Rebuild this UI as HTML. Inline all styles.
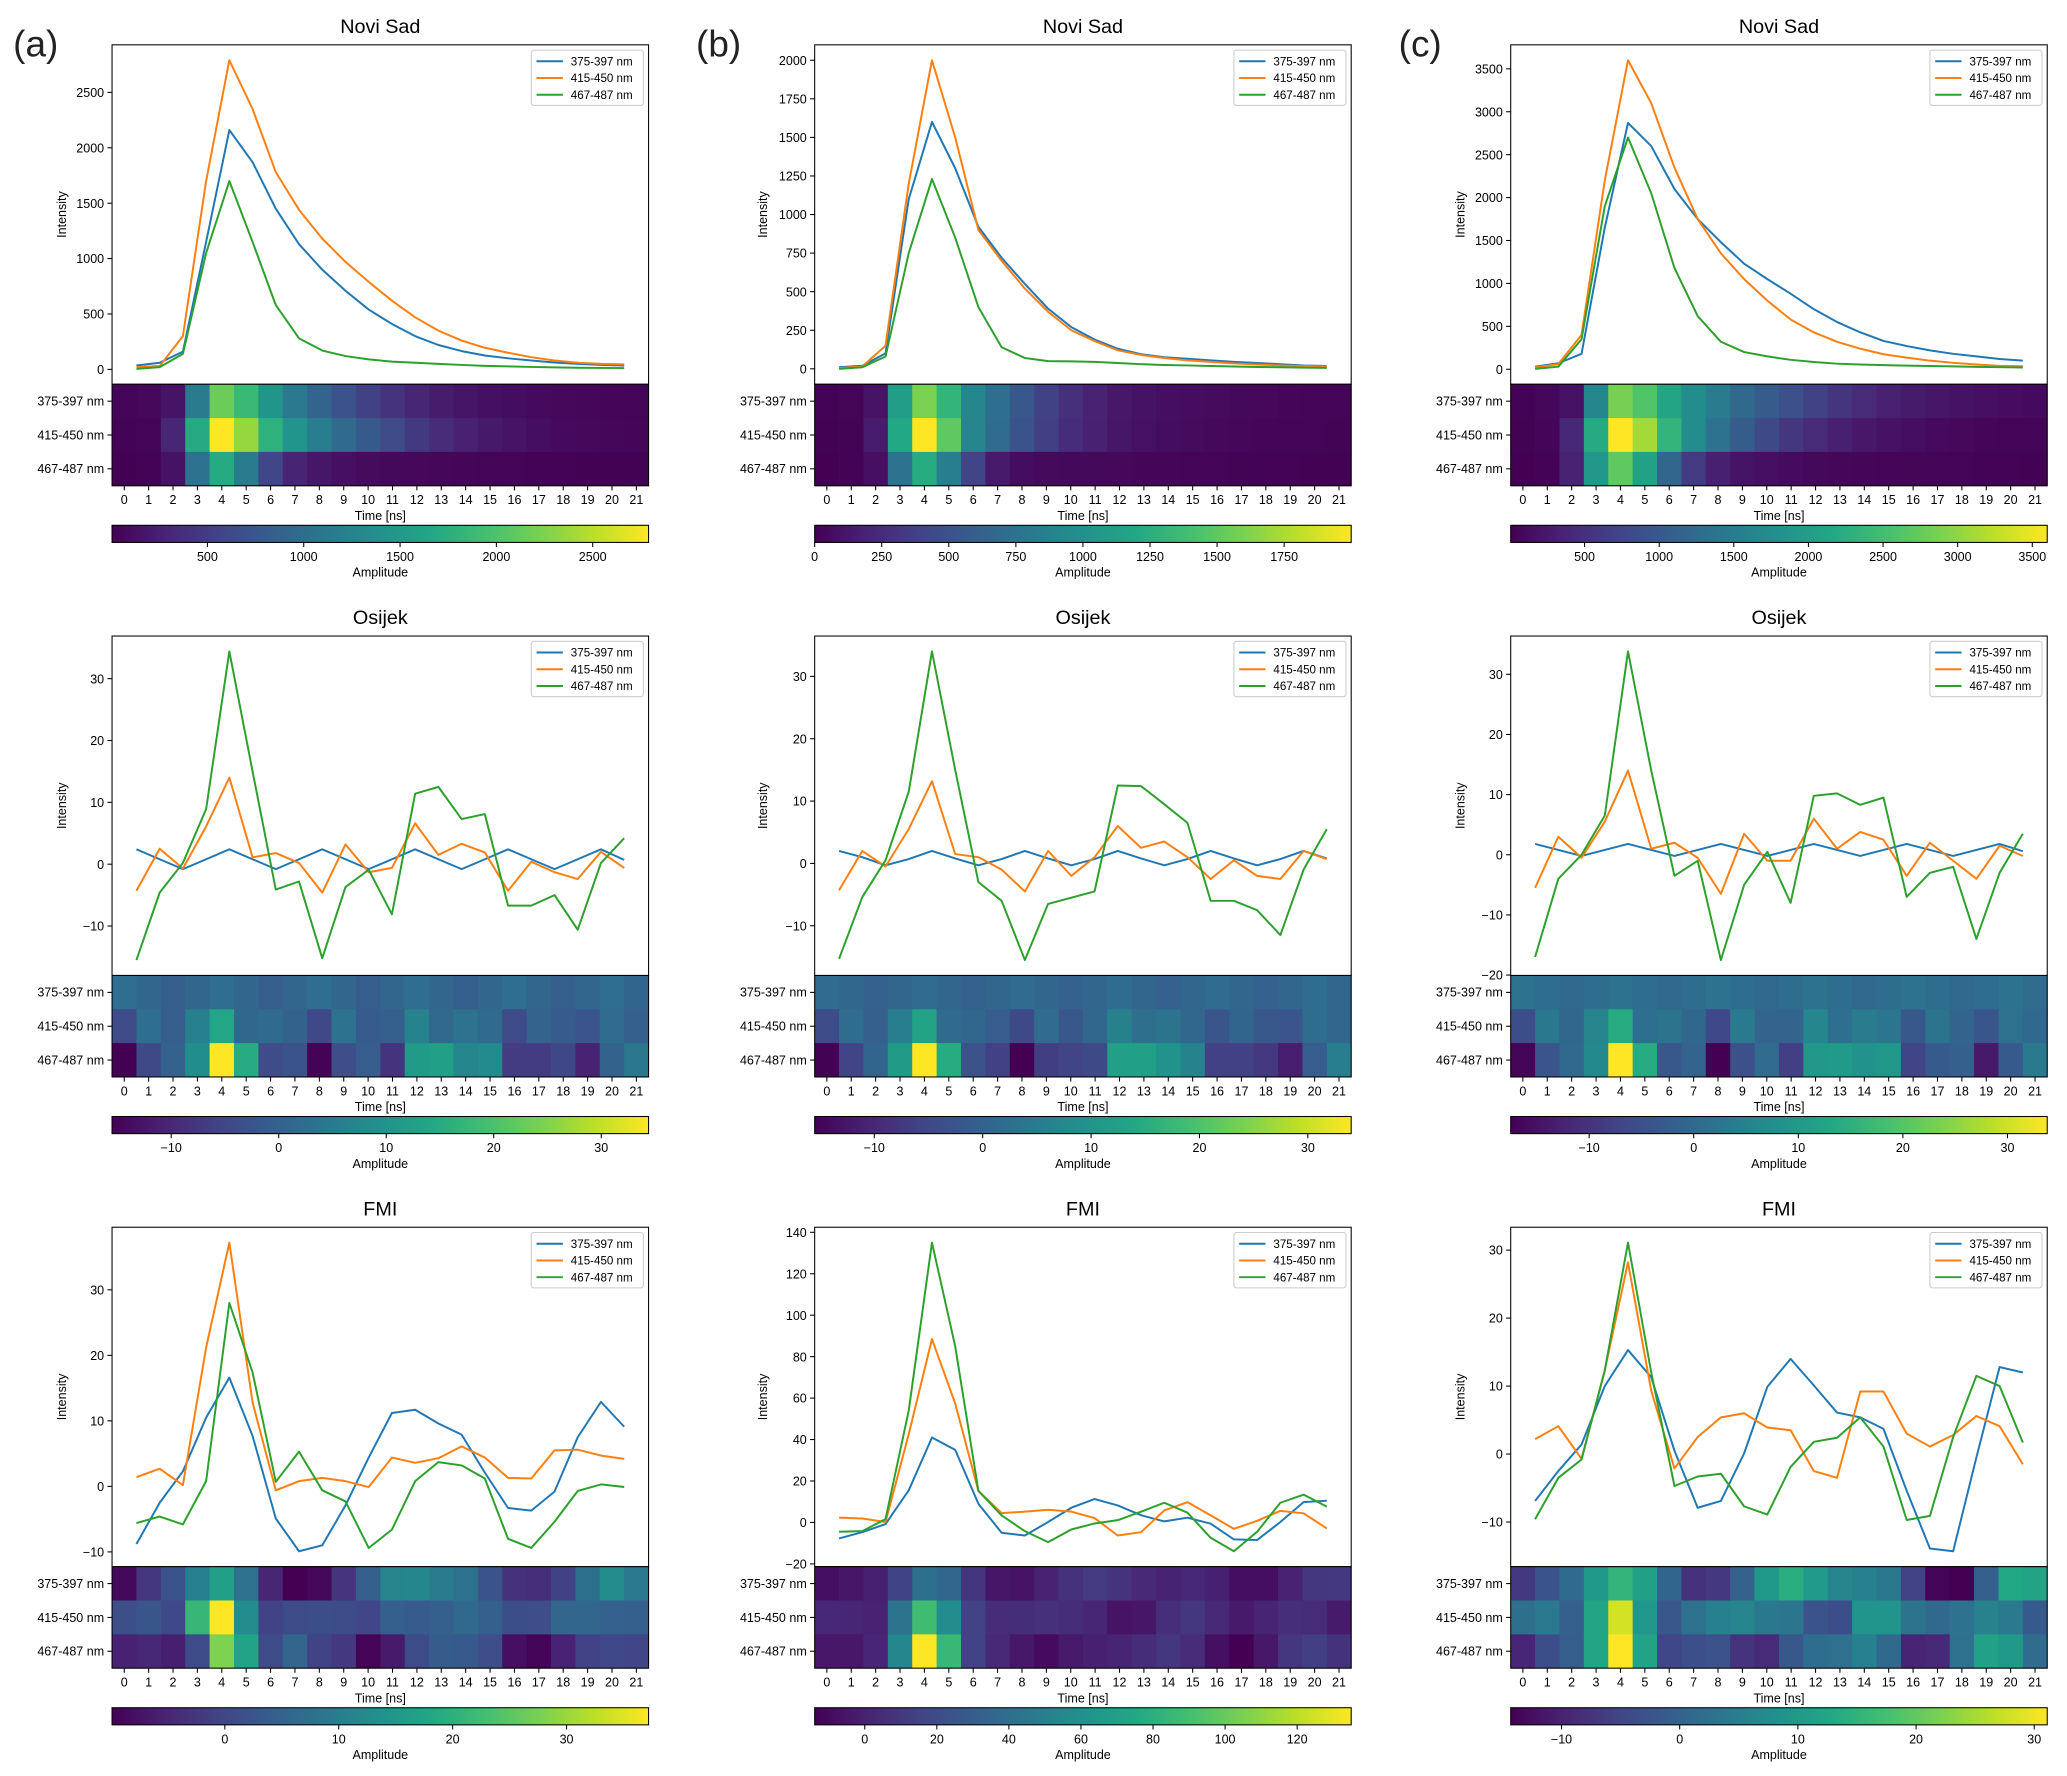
<!DOCTYPE html>
<html><head><meta charset="utf-8">
<style>
html,body{margin:0;padding:0;background:#fff;}
svg{display:block;font-family:"Liberation Sans","DejaVu Sans",sans-serif;}
</style></head>
<body>
<svg id="fig" width="2067" height="1776" viewBox="0 0 1568 1347.3" preserveAspectRatio="none" xmlns="http://www.w3.org/2000/svg">
<text x="10" y="43" font-size="28" fill="#222">(a)</text>
<text x="528" y="43" font-size="28" fill="#222">(b)</text>
<text x="1061" y="43" font-size="28" fill="#222">(c)</text>
</svg>
<script>
const timeBins = [0,1,2,3,4,5,6,7,8,9,10,11,12,13,14,15,16,17,18,19,20,21];
const bandLabels = ["375-397 nm","415-450 nm","467-487 nm"];

// Novi Sad (a)
const nsA375 = [35,60,160,1150,2160,1870,1450,1130,900,710,540,410,300,220,165,125,100,80,62,50,40,35];
const nsA415 = [20,30,300,1700,2790,2350,1780,1440,1180,970,790,620,470,350,260,195,150,110,80,60,50,45];
const nsA467 = [5,20,140,1050,1700,1150,580,280,170,120,90,70,60,50,40,32,27,22,18,15,13,12];
// Novi Sad (b)
const nsB375 = [10,20,100,1100,1600,1300,920,720,550,390,270,190,130,95,75,65,55,45,38,30,22,18];
const nsB415 = [5,15,150,1200,2000,1500,900,700,520,370,250,180,120,90,70,55,45,35,28,22,18,15];
const nsB467 = [0,10,80,750,1230,850,400,140,70,50,48,45,38,30,25,22,18,15,12,10,8,6];
// Novi Sad (c)
const nsC375 = [30,70,180,1650,2870,2600,2100,1750,1480,1230,1050,880,700,550,430,330,270,220,180,150,120,100];
const nsC415 = [20,60,400,2200,3600,3100,2350,1750,1350,1050,800,580,430,320,240,175,135,100,75,55,40,35];
const nsC467 = [5,30,350,1900,2700,2050,1180,620,320,200,150,110,85,65,55,48,42,38,33,28,24,20];
// Osijek (a)
const osA375 = [2.4,0.8,-0.8,0.8,2.4,0.8,-0.8,0.8,2.4,0.8,-0.8,0.8,2.4,0.8,-0.8,0.8,2.4,0.8,-0.8,0.8,2.4,0.7];
const osA415 = [-4.3,2.5,-0.7,6.1,14,1.1,1.8,0.2,-4.6,3.2,-1.3,-0.6,6.6,1.5,3.3,1.9,-4.3,0.4,-1.3,-2.4,2.0,-0.6];
const osA467 = [-15.5,-4.6,0.2,8.9,34.4,15,-4.1,-2.8,-15.2,-3.7,-0.9,-8.1,11.4,12.5,7.3,8.1,-6.7,-6.7,-5.0,-10.6,0.2,4.2];
// Osijek (b)
const osB375 = [2,1,-0.3,0.7,2,0.8,-0.3,0.7,2,0.8,-0.3,0.7,2,0.8,-0.3,0.7,2,0.8,-0.3,0.7,2,0.8];
const osB415 = [-4.3,2,-0.5,5.5,13.2,1.5,1,-1,-4.5,2,-2,1,6,2.5,3.5,1,-2.5,0.5,-2,-2.5,2,0.7];
const osB467 = [-15.3,-5.4,0.5,11.5,34,15,-3,-6,-15.5,-6.5,-5.5,-4.5,12.5,12.4,9.5,6.5,-6,-6,-7.5,-11.5,-1,5.5];
// Osijek (c)
const osC375 = [1.8,0.8,-0.2,0.8,1.8,0.8,-0.2,0.8,1.8,0.8,-0.2,0.8,1.8,0.8,-0.2,0.8,1.8,0.8,-0.2,0.8,1.8,0.6];
const osC415 = [-5.5,3,-0.5,5.5,14,1,2,-0.5,-6.5,3.5,-1,-1,6,1,3.8,2.5,-3.5,2,-1,-4,1.5,-0.2];
const osC467 = [-17,-4,0,6.5,33.8,14,-3.5,-1,-17.5,-5,0.5,-8,9.8,10.2,8.3,9.5,-7,-3,-2,-14,-3,3.5];
// FMI (a)
const fmA375 = [-8.8,-2.5,2.3,10.5,16.6,7.7,-4.9,-9.9,-9.0,-2.9,4.4,11.2,11.7,9.6,7.9,2.1,-3.3,-3.7,-0.8,7.5,12.9,9.1];
const fmA415 = [1.4,2.7,0.2,21.2,37.2,12.8,-0.6,0.8,1.3,0.8,-0.1,4.4,3.6,4.3,6.1,4.4,1.3,1.2,5.5,5.6,4.7,4.2];
const fmA467 = [-5.6,-4.6,-5.8,0.8,28,17.4,0.7,5.3,-0.6,-2.3,-9.4,-6.6,0.8,3.7,3.2,1.2,-8.0,-9.4,-5.4,-0.7,0.3,-0.1];
// FMI (b)
const fmB375 = [-7.7,-4.7,-0.8,15.5,41,35,9,-5,-6.3,0.2,7.1,11.3,8.2,3.5,0.5,2.3,-0.6,-8.2,-8.5,0.2,9.8,10.5];
const fmB415 = [2.3,1.9,0.2,42.6,88.5,57.4,15.2,4.5,5.2,6.1,5.2,2.1,-6.3,-4.7,5.8,9.8,3.4,-3.1,0.8,5.6,4.4,-2.9];
const fmB467 = [-4.5,-4.2,1.6,54,135,85,15.2,3.4,-4.2,-9.5,-3.4,-0.5,1.1,5.2,9.5,4.7,-7.4,-13.9,-4.5,9.5,13.4,7.6];
// FMI (c)
const fmC375 = [-6.9,-2.5,1.4,10,15.3,11.3,0.5,-7.9,-6.9,0.1,9.9,14,10.1,6.1,5.4,3.7,-5.4,-13.9,-14.3,-0.5,12.8,12];
const fmC415 = [2.2,4.1,-0.7,12.3,28.2,9.3,-2.1,2.5,5.4,6,3.9,3.5,-2.5,-3.5,9.2,9.2,3,1.1,2.8,5.6,4.1,-1.5];
const fmC467 = [-9.6,-3.5,-0.8,12.3,31.1,12,-4.7,-3.3,-2.9,-7.7,-8.9,-1.9,1.8,2.4,5.4,1.1,-9.7,-9.1,2.5,11.5,10,1.7];

// tick labels
const yTicksNsA = [0,500,1000,1500,2000,2500];
const yTicksNsB = [0,250,500,750,1000,1250,1500,1750,2000];
const yTicksNsC = [0,500,1000,1500,2000,2500,3000,3500];
const yTicksOsAB = [-10,0,10,20,30];
const yTicksOsC = [-20,-10,0,10,20,30];
const yTicksFmA = [-10,0,10,20,30];
const yTicksFmB = [-20,0,20,40,60,80,100,120,140];
const yTicksFmC = [-10,0,10,20,30];
const cbTicksNsA = [500,1000,1500,2000,2500];
const cbTicksNsB = [0,250,500,750,1000,1250,1500,1750];
const cbTicksNsC = [500,1000,1500,2000,2500,3000,3500];
const cbTicksOs = [-10,0,10,20,30];
const cbTicksFmA = [0,10,20,30];
const cbTicksFmB = [0,20,40,60,80,100,120];
const cbTicksFmC = [-10,0,10,20,30];

const titles = ["Novi Sad","Osijek","FMI"];
const panels = [
 [[nsA375,nsA415,nsA467],yTicksNsA,cbTicksNsA],[[nsB375,nsB415,nsB467],yTicksNsB,cbTicksNsB],[[nsC375,nsC415,nsC467],yTicksNsC,cbTicksNsC],
 [[osA375,osA415,osA467],yTicksOsAB,cbTicksOs],[[osB375,osB415,osB467],yTicksOsAB,cbTicksOs],[[osC375,osC415,osC467],yTicksOsC,cbTicksOs],
 [[fmA375,fmA415,fmA467],yTicksFmA,cbTicksFmA],[[fmB375,fmB415,fmB467],yTicksFmB,cbTicksFmB],[[fmC375,fmC415,fmC467],yTicksFmC,cbTicksFmC]
];

const colX = [85,618,1146], rowY = [34,482.5,931];
const W = 407, PH = 257.5, HH = 77;
const seriesColors = ["#1f77b4","#ff7f0e","#2ca02c"];
const vir = ["#440154","#482475","#414487","#355f8d","#2a788e","#21918c","#22a884","#44bf70","#7ad151","#bddf26","#fde725"];
function hex(h){return [1,3,5].map(i=>parseInt(h.substr(i,2),16));}
function viridis(t){t=Math.max(0,Math.min(1,t));const p=t*10,i=Math.min(9,Math.floor(p)),f=p-i;const a=hex(vir[i]),b=hex(vir[i+1]);return "rgb("+a.map((v,k)=>Math.round(v+(b[k]-v)*f)).join(",")+")";}

const svg = document.getElementById('fig');
const NS = "http://www.w3.org/2000/svg";
function mk(tag, attrs, parent){const e=document.createElementNS(NS,tag);for(const k in attrs)e.setAttribute(k,attrs[k]);(parent||svg).appendChild(e);return e;}
function txt(x,y,s,size,anchor,parent){const t=mk('text',{x:x,y:y,'font-size':size,'text-anchor':anchor||'middle',fill:'#000'},parent);t.textContent=s;return t;}

panels.forEach((p,idx)=>{
  const r=Math.floor(idx/3), c=idx%3;
  const L=colX[c], T=rowY[r];
  const series=p[0], yT=p[1], cbT=p[2];
  const g=mk('g',{});
  
  
  const all=[].concat(...series);
  const mn=Math.min(...all), mx=Math.max(...all), rg=mx-mn;
  const y0=mn-0.05*rg, y1=mx+0.05*rg;
  const cw=W/22;
  const xs=k=>L+cw*(1+k*20/21);
  const ys=v=>T+PH-(v-y0)/(y1-y0)*PH;
  // title
  const tt=txt(L+W/2,T-9,titles[r],15,'middle',g);
  
  
  // plot frame bg
  mk('rect',{x:L,y:T,width:W,height:PH,fill:'#fff'},g);
  // y ticks
  yT.forEach(v=>{
    const y=ys(v);
    if(y<T-0.5||y>T+PH+0.5)return;
    mk('line',{x1:L-3.5,x2:L,y1:y,y2:y,stroke:'#000','stroke-width':0.8},g);
    const lab=txt(L-6,y+3.5,v<0?'\u2212'+Math.abs(v):String(v),9.5,'end',g);
    
    
  });
  const yl=txt(0,0,'Intensity',9.5,'middle',g);
  yl.setAttribute('transform','translate('+(L-(c===1?36:35))+','+(T+PH/2)+') rotate(-90)');
  
  
  // series lines
  series.forEach((arr,si)=>{
    const pts=arr.map((v,k)=>xs(k).toFixed(2)+','+ys(v).toFixed(2)).join(' ');
    const pl=mk('polyline',{points:pts,fill:'none',stroke:seriesColors[si],'stroke-width':1.5,'stroke-linejoin':'round'},g);
    
    
  });
  mk('rect',{x:L,y:T,width:W,height:PH,fill:'none',stroke:'#000','stroke-width':0.8},g);
  // legend
  const lg=mk('g',{},g);
  
  
  const lx=L+W-89, ly=T+4;
  mk('rect',{x:lx,y:ly,width:85,height:42,fill:'#fff',stroke:'#ccc','stroke-width':0.8,rx:2},lg);
  bandLabels.forEach((b,si)=>{
    const yy=ly+8.5+si*12.7;
    mk('line',{x1:lx+4,x2:lx+24,y1:yy,y2:yy,stroke:seriesColors[si],'stroke-width':1.5},lg);
    const lt=txt(lx+30,yy+3.2,b,8.8,'start',lg);
    
    
  });
  // heatmap
  const HT=T+PH;
  const hm=mk('g',{},g);
  
  
  series.forEach((arr,si)=>{
    arr.forEach((v,k)=>{
      const cell=mk('rect',{x:L+k*cw,y:HT+si*HH/3,width:cw+0.3,height:HH/3+0.3,fill:viridis((v-mn)/rg)},hm);
      
      
    });
    const yy=HT+(si+0.5)*HH/3;
    mk('line',{x1:L-3.5,x2:L,y1:yy,y2:yy,stroke:'#000','stroke-width':0.8},g);
    const bl=txt(L-6,yy+3.3,bandLabels[si],9.5,'end',g);
    
    
  });
  mk('rect',{x:L,y:HT,width:W,height:HH,fill:'none',stroke:'#000','stroke-width':0.8},g);
  timeBins.forEach((t,k)=>{
    const x=L+(k+0.5)*cw;
    mk('line',{x1:x,x2:x,y1:HT+HH,y2:HT+HH+3.5,stroke:'#000','stroke-width':0.8},g);
    const xl=txt(x,HT+HH+14,String(t),9.5,'middle',g);
    
    
  });
  const xt=txt(L+W/2,HT+HH+26,'Time [ns]',9.5,'middle',g);
  
  
  // colorbar
  const CT=HT+HH+30, CH=13;
  const gid='vg'+idx;
  const grad=mk('linearGradient',{id:gid,x1:0,x2:1,y1:0,y2:0},mk('defs',{},g));
  vir.forEach((col,i)=>mk('stop',{offset:(i/10),'stop-color':col},grad));
  const cb=mk('rect',{x:L,y:CT,width:W,height:CH,fill:'url(#'+gid+')',stroke:'#000','stroke-width':0.8},g);
  
  
  cbT.forEach(v=>{
    const x=L+(v-mn)/rg*W;
    if(x<L-0.5||x>L+W+0.5)return;
    mk('line',{x1:x,x2:x,y1:CT+CH,y2:CT+CH+3.5,stroke:'#000','stroke-width':0.8},g);
    const cl=txt(x,CT+CH+14,v<0?'\u2212'+Math.abs(v):String(v),9.5,'middle',g);
    
    
  });
  const at=txt(L+W/2,CT+CH+26,'Amplitude',9.5,'middle',g);
  
  
});
</script>
</body></html>
